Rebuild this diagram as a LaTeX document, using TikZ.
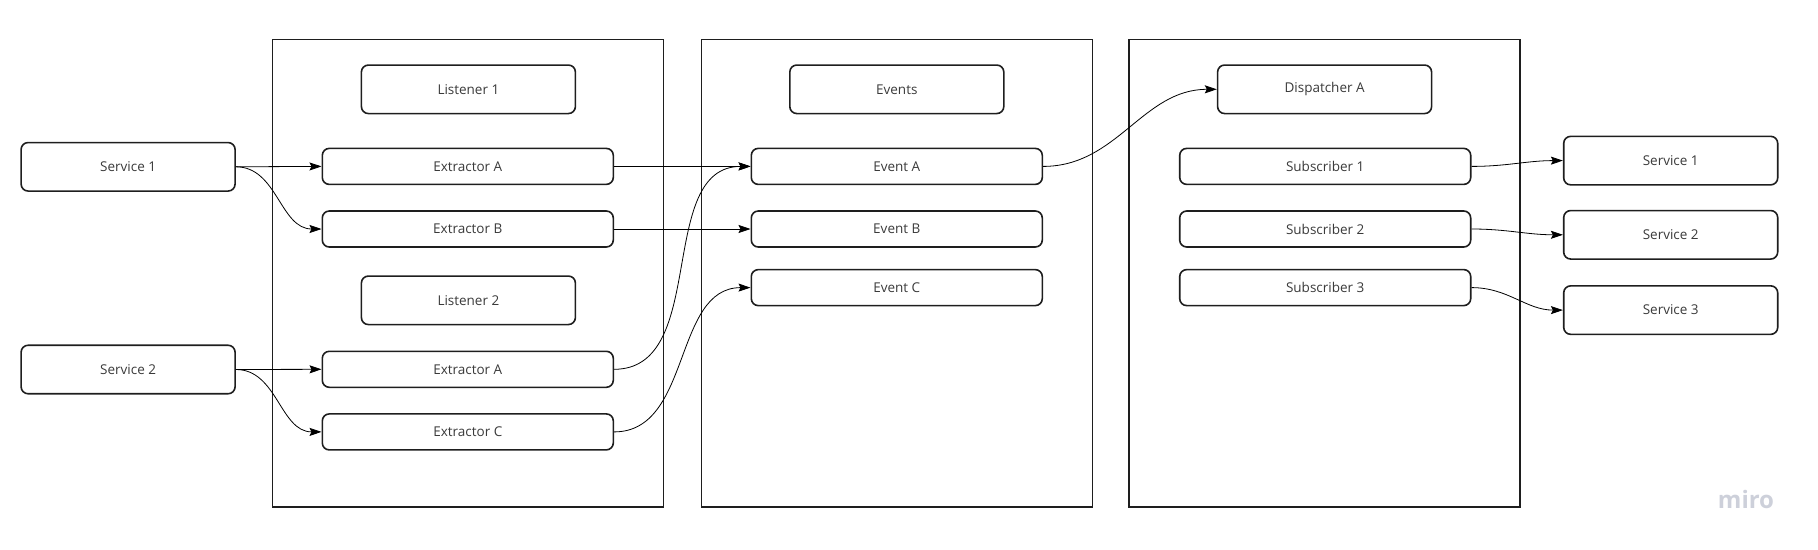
\documentclass[tikz,border=0pt]{standalone}
\usepackage{fontspec}
\setmainfont{Open Sans}
\usetikzlibrary{arrows.meta}
\definecolor{ink}{HTML}{1E1E1E}
\definecolor{txt}{HTML}{3A3A3A}
\definecolor{miro}{HTML}{CDD0DA}
\begin{document}
\begin{tikzpicture}[x=1pt,y=-1pt,
  box/.style={draw=ink, line width=1.6pt, rounded corners=7pt, inner sep=0pt,
    font=\fontsize{13.5}{16}\selectfont, text=txt},
  wide/.style={box, minimum width=291pt, minimum height=36pt},
  head/.style={box, minimum width=214pt, minimum height=48.5pt},
  frame/.style={draw=ink, line width=1.6pt, inner sep=0pt, minimum width=391pt, minimum height=467.5pt},
  conn/.style={draw=black, line width=0.8pt, -{Stealth[length=12pt,width=8pt,inset=2pt]}},
]
\useasboundingbox (0,0) rectangle (1818,549);
% containers
\node[frame] (c1) at (467.8,273.2) {};
\node[frame] (c2) at (896.8,273.2) {};
\node[frame] (c3) at (1324.6,273.2) {};
% left services
\node[head] (sa) at (128.1,166.8) {Service 1};
\node[head] (sb) at (128.1,369.5) {Service 2};
% container 1
\node[head] (l1) at (468.4,89.3) {Listener 1};
\node[wide] (xa1) at (467.8,166.4) {Extractor A};
\node[wide] (xb) at (467.8,229.0) {Extractor B};
\node[head] (l2) at (468.4,300.3) {Listener 2};
\node[wide] (xa2) at (467.8,369.3) {Extractor A};
\node[wide] (xc) at (467.8,431.9) {Extractor C};
% container 2
\node[head] (ev) at (896.8,89.3) {Events};
\node[wide] (ea) at (896.8,166.4) {Event A};
\node[wide] (eb) at (896.8,229.0) {Event B};
\node[wide] (ec) at (896.8,287.6) {Event C};
% container 3
\node[head] (da) at (1324.6,89.3) {Dispatcher A};
\node[wide] (su1) at (1325.2,166.4) {Subscriber 1};
\node[wide] (su2) at (1325.2,229.0) {Subscriber 2};
\node[wide] (su3) at (1325.2,287.6) {Subscriber 3};
% right services
\node[head] (ra) at (1670.7,160.6) {Service 1};
\node[head] (rb) at (1670.7,234.8) {Service 2};
\node[head] (rc) at (1670.7,310.1) {Service 3};
% watermark
\node[text=miro, font=\fontsize{24}{28}\bfseries\selectfont, inner sep=0pt] (wm) at (1746,499) {miro};
% connectors
\draw[conn] (sa.east) -- (xa1.west);
\draw[conn] (sa.east) to[out=0,in=180] (xb.west);
\draw[conn] (sb.east) -- (xa2.west);
\draw[conn] (sb.east) to[out=0,in=180] (xc.west);
\draw[conn] (xa1.east) -- (ea.west);
\draw[conn] (xb.east) -- (eb.west);
\draw[conn] (xa2.east) to[out=0,in=180] (ea.west);
\draw[conn] (xc.east) to[out=0,in=180] (ec.west);
\draw[conn] (ea.east) to[out=0,in=180] (da.west);
\draw[conn] (su1.east) to[out=0,in=180] (ra.west);
\draw[conn] (su2.east) to[out=0,in=180] (rb.west);
\draw[conn] (su3.east) to[out=0,in=180] (rc.west);
\end{tikzpicture}
\end{document}
